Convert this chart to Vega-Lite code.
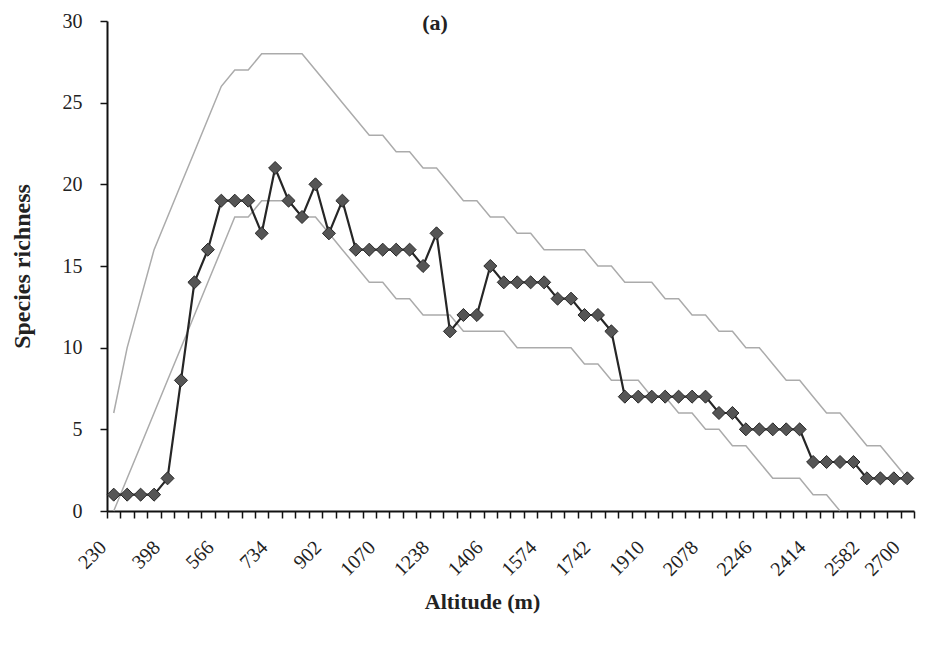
{
  "$schema": "https://vega.github.io/schema/vega-lite/v6.json",
  "width": 807,
  "height": 490,
  "autosize": "none",
  "padding": {"left": 107, "top": 21, "right": 25, "bottom": 138},
  "background": "white",
  "config": {"view": {"stroke": null}, "font": "Liberation Serif"},
  "title": {"text": "(a)", "font": "Liberation Serif", "fontSize": 22, "fontWeight": "bold", "color": "#222", "anchor": "start", "frame": "group", "align": "center", "baseline": "middle", "offset": 0, "dx": 328, "dy": 34},
  "data": {"values": [
    {"alt": 230, "obs": 1, "upper": 6, "lower": 0},
    {"alt": 272, "obs": 1, "upper": 10, "lower": 2},
    {"alt": 314, "obs": 1, "upper": 13, "lower": 4},
    {"alt": 356, "obs": 1, "upper": 16, "lower": 6},
    {"alt": 398, "obs": 2, "upper": 18, "lower": 8},
    {"alt": 440, "obs": 8, "upper": 20, "lower": 10},
    {"alt": 482, "obs": 14, "upper": 22, "lower": 12},
    {"alt": 524, "obs": 16, "upper": 24, "lower": 14},
    {"alt": 566, "obs": 19, "upper": 26, "lower": 16},
    {"alt": 608, "obs": 19, "upper": 27, "lower": 18},
    {"alt": 650, "obs": 19, "upper": 27, "lower": 18},
    {"alt": 692, "obs": 17, "upper": 28, "lower": 19},
    {"alt": 734, "obs": 21, "upper": 28, "lower": 19},
    {"alt": 776, "obs": 19, "upper": 28, "lower": 19},
    {"alt": 818, "obs": 18, "upper": 28, "lower": 18},
    {"alt": 860, "obs": 20, "upper": 27, "lower": 18},
    {"alt": 902, "obs": 17, "upper": 26, "lower": 17},
    {"alt": 944, "obs": 19, "upper": 25, "lower": 16},
    {"alt": 986, "obs": 16, "upper": 24, "lower": 15},
    {"alt": 1028, "obs": 16, "upper": 23, "lower": 14},
    {"alt": 1070, "obs": 16, "upper": 23, "lower": 14},
    {"alt": 1112, "obs": 16, "upper": 22, "lower": 13},
    {"alt": 1154, "obs": 16, "upper": 22, "lower": 13},
    {"alt": 1196, "obs": 15, "upper": 21, "lower": 12},
    {"alt": 1238, "obs": 17, "upper": 21, "lower": 12},
    {"alt": 1280, "obs": 11, "upper": 20, "lower": 12},
    {"alt": 1322, "obs": 12, "upper": 19, "lower": 11},
    {"alt": 1364, "obs": 12, "upper": 19, "lower": 11},
    {"alt": 1406, "obs": 15, "upper": 18, "lower": 11},
    {"alt": 1448, "obs": 14, "upper": 18, "lower": 11},
    {"alt": 1490, "obs": 14, "upper": 17, "lower": 10},
    {"alt": 1532, "obs": 14, "upper": 17, "lower": 10},
    {"alt": 1574, "obs": 14, "upper": 16, "lower": 10},
    {"alt": 1616, "obs": 13, "upper": 16, "lower": 10},
    {"alt": 1658, "obs": 13, "upper": 16, "lower": 10},
    {"alt": 1700, "obs": 12, "upper": 16, "lower": 9},
    {"alt": 1742, "obs": 12, "upper": 15, "lower": 9},
    {"alt": 1784, "obs": 11, "upper": 15, "lower": 8},
    {"alt": 1826, "obs": 7, "upper": 14, "lower": 8},
    {"alt": 1868, "obs": 7, "upper": 14, "lower": 8},
    {"alt": 1910, "obs": 7, "upper": 14, "lower": 7},
    {"alt": 1952, "obs": 7, "upper": 13, "lower": 7},
    {"alt": 1994, "obs": 7, "upper": 13, "lower": 6},
    {"alt": 2036, "obs": 7, "upper": 12, "lower": 6},
    {"alt": 2078, "obs": 7, "upper": 12, "lower": 5},
    {"alt": 2120, "obs": 6, "upper": 11, "lower": 5},
    {"alt": 2162, "obs": 6, "upper": 11, "lower": 4},
    {"alt": 2204, "obs": 5, "upper": 10, "lower": 4},
    {"alt": 2246, "obs": 5, "upper": 10, "lower": 3},
    {"alt": 2288, "obs": 5, "upper": 9, "lower": 2},
    {"alt": 2330, "obs": 5, "upper": 8, "lower": 2},
    {"alt": 2372, "obs": 5, "upper": 8, "lower": 2},
    {"alt": 2414, "obs": 3, "upper": 7, "lower": 1},
    {"alt": 2456, "obs": 3, "upper": 6, "lower": 1},
    {"alt": 2498, "obs": 3, "upper": 6, "lower": 0},
    {"alt": 2540, "obs": 3, "upper": 5, "lower": null},
    {"alt": 2582, "obs": 2, "upper": 4, "lower": null},
    {"alt": 2624, "obs": 2, "upper": 4, "lower": null},
    {"alt": 2666, "obs": 2, "upper": 3, "lower": null},
    {"alt": 2700, "obs": 2, "upper": 2, "lower": null}
  ]},
  "encoding": {
    "x": {
      "field": "alt",
      "type": "ordinal",
      "sort": "ascending",
      "scale": {"type": "band", "paddingInner": 0, "paddingOuter": 0},
      "axis": {
        "title": "Altitude (m)",
        "titleFont": "Liberation Serif",
        "titleFontSize": 22,
        "titleFontWeight": "bold",
        "titleColor": "#222",
        "titleX": 375,
        "titleY": 90,
        "titleAlign": "center",
        "titleBaseline": "middle",
        "labelAngle": -45,
        "labelAlign": "right",
        "labelBaseline": "middle",
        "labelFont": "Liberation Serif",
        "labelFontSize": 20,
        "labelColor": "#222",
        "labelPadding": 26,
        "labelOffset": -11,
        "labelOverlap": false,
        "labelFlush": false,
        "labelExpr": "indexof([230,398,566,734,902,1070,1238,1406,1574,1742,1910,2078,2246,2414,2582,2700], datum.value) >= 0 ? datum.label : ''",
        "tickBand": "extent",
        "tickSize": 7,
        "tickColor": "#111",
        "tickWidth": 1.5,
        "domainColor": "#111",
        "domainWidth": 2,
        "grid": false
      }
    }
  },
  "layer": [
    {
      "transform": [{"fold": ["upper", "lower"], "as": ["series", "val"]}],
      "mark": {"type": "line", "color": "#ababab", "strokeWidth": 1.5},
      "encoding": {
        "detail": {"field": "series", "type": "nominal"},
        "y": {
          "field": "val",
          "type": "quantitative",
          "scale": {"domain": [0, 30], "nice": false},
          "axis": {
            "title": "Species richness",
            "titleFont": "Liberation Serif",
            "titleFontSize": 24,
            "titleFontWeight": "bold",
            "titleColor": "#222",
            "titleX": -85,
            "titleY": 245,
            "titleAlign": "center",
            "titleBaseline": "middle",
            "values": [0, 5, 10, 15, 20, 25, 30],
            "labelFont": "Liberation Serif",
            "labelFontSize": 20,
            "labelColor": "#222",
            "labelPadding": 18,
            "tickSize": 7,
            "tickColor": "#111",
            "tickWidth": 1.5,
            "domainColor": "#111",
            "domainWidth": 2,
            "grid": false
          }
        }
      }
    },
    {
      "mark": {"type": "line", "color": "#262626", "strokeWidth": 2.2, "point": {"shape": "diamond", "filled": true, "size": 170, "fill": "#555555", "stroke": "#262626", "strokeWidth": 1}},
      "encoding": {
        "y": {
          "field": "obs",
          "type": "quantitative",
          "scale": {"domain": [0, 30], "nice": false},
          "axis": {
            "title": "Species richness",
            "titleFont": "Liberation Serif",
            "titleFontSize": 24,
            "titleFontWeight": "bold",
            "titleColor": "#222",
            "titleX": -85,
            "titleY": 245,
            "titleAlign": "center",
            "titleBaseline": "middle",
            "values": [0, 5, 10, 15, 20, 25, 30],
            "labelFont": "Liberation Serif",
            "labelFontSize": 20,
            "labelColor": "#222",
            "labelPadding": 18,
            "tickSize": 7,
            "tickColor": "#111",
            "tickWidth": 1.5,
            "domainColor": "#111",
            "domainWidth": 2,
            "grid": false
          }
        }
      }
    }
  ]
}
